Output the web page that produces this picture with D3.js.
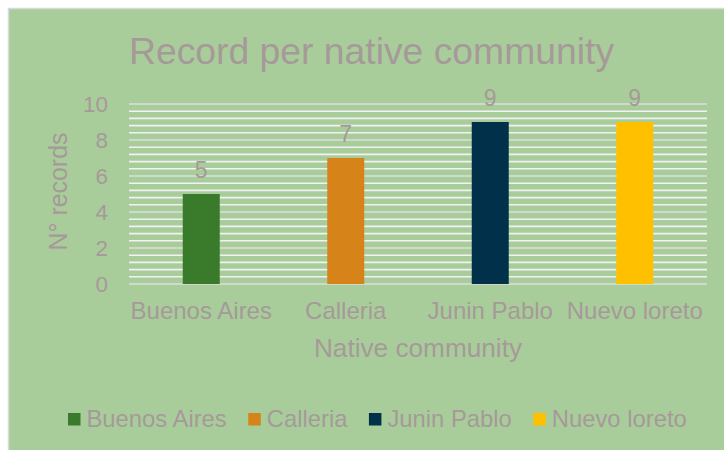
<!DOCTYPE html>
<html>
<head>
<meta charset="utf-8">
<script src="https://cdn.jsdelivr.net/npm/d3@7"></script>
<style>
  html, body { margin: 0; padding: 0; background: #ffffff; }
  svg { display: block; }
  text { font-family: "Liberation Sans", Arial, sans-serif; fill: #a6999a; }
</style>
</head>
<body>
<svg id="chart" width="724" height="450"></svg>
<script>
// Records per native community
const communities = ["Buenos Aires", "Calleria", "Junin Pablo", "Nuevo loreto"];
const records = [5, 7, 9, 9];
const barColors = ["#3a7a2b", "#d6841a", "#00304a", "#ffc000"];
const yTicks = [0, 2, 4, 6, 8, 10];
const chartTitle = "Record per native community";
const xTitle = "Native community";
const yTitle = "N° records";

const svg = d3.select("#chart");

// chart background with thin border
svg.append("rect")
  .attr("x", 8.5).attr("y", 8.5)
  .attr("width", 740).attr("height", 460)
  .attr("fill", "#a9cd9a")
  .attr("stroke", "#d9d9d9")
  .attr("stroke-width", 1.5);

const plot = { left: 129, right: 707, top: 104, bottom: 284 };

const x = d3.scaleBand()
  .domain(communities)
  .range([plot.left, plot.right])
  .padding(0);

const y = d3.scaleLinear()
  .domain([0, 10])
  .range([plot.bottom, plot.top]);

// minor gridlines every 0.4, major every 2
const minorTicks = d3.range(0, 10.0001, 0.4).map(v => +v.toFixed(1));
svg.append("g")
  .selectAll("line")
  .data(minorTicks)
  .join("line")
  .attr("x1", plot.left).attr("x2", plot.right)
  .attr("y1", d => y(d)).attr("y2", d => y(d))
  .attr("stroke", d => (Math.abs(d % 2) < 1e-6 ? "#dcdcdc" : "#f2f2f2"))
  .attr("stroke-width", 1.6);

// bars
const barWidth = 37;
svg.append("g")
  .selectAll("rect")
  .data(communities)
  .join("rect")
  .attr("x", d => x(d) + x.bandwidth() / 2 - barWidth / 2)
  .attr("y", (d, i) => y(records[i]))
  .attr("width", barWidth)
  .attr("height", (d, i) => y(0) - y(records[i]))
  .attr("fill", (d, i) => barColors[i]);

// value labels
svg.append("g")
  .selectAll("text")
  .data(communities)
  .join("text")
  .attr("x", d => x(d) + x.bandwidth() / 2)
  .attr("y", (d, i) => y(records[i]) - 16)
  .attr("text-anchor", "middle")
  .style("font-size", "23px")
  .text((d, i) => records[i]);

// y axis tick labels
const yAxis = d3.axisLeft(y).tickValues(yTicks).tickSize(0).tickPadding(21);
svg.append("g")
  .attr("transform", `translate(${plot.left},0)`)
  .call(yAxis)
  .call(g => g.select(".domain").remove())
  .call(g => g.selectAll("text")
    .attr("fill", null)
    .attr("dy", "0.35em")
    .style("font-family", "\"Liberation Sans\", Arial, sans-serif")
    .style("font-size", "22.5px"));

// x axis category labels
const xAxis = d3.axisBottom(x).tickSize(0).tickPadding(0);
svg.append("g")
  .attr("transform", `translate(0,${plot.bottom})`)
  .call(xAxis)
  .call(g => g.select(".domain").remove())
  .call(g => g.selectAll("text")
    .attr("fill", null)
    .attr("y", 35.3)
    .attr("dy", null)
    .style("font-family", "\"Liberation Sans\", Arial, sans-serif")
    .style("font-size", "24px"));

// titles
svg.append("text")
  .attr("x", 371.5).attr("y", 64)
  .attr("text-anchor", "middle")
  .style("font-size", "37.3px")
  .text(chartTitle);

svg.append("text")
  .attr("x", (plot.left + plot.right) / 2).attr("y", 357.3)
  .attr("text-anchor", "middle")
  .style("font-size", "26.2px")
  .text(xTitle);

svg.append("text")
  .attr("transform", `translate(67,${(plot.top + plot.bottom) / 2 - 2.5}) rotate(-90)`)
  .attr("text-anchor", "middle")
  .style("font-size", "24.9px")
  .text(yTitle);

// legend
const legend = svg.append("g");
let lx = 68;
communities.forEach((name, i) => {
  legend.append("rect")
    .attr("x", lx).attr("y", 413)
    .attr("width", 12.5).attr("height", 12.5)
    .attr("fill", barColors[i]);
  const t = legend.append("text")
    .attr("x", lx + 18.5).attr("y", 427)
    .style("font-size", "23.8px")
    .text(name);
  lx += 18.5 + t.node().getComputedTextLength() + 21.5;
});
</script>
</body>
</html>
